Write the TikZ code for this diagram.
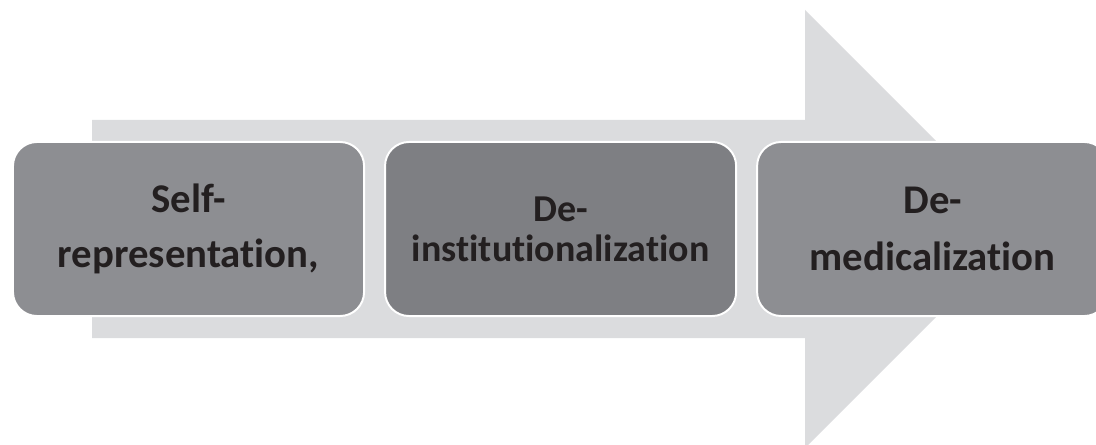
\documentclass[tikz,border=0pt]{standalone}
\usepackage{fontspec}
\setmainfont{Carlito}[Ligatures={NoCommon}]
\usepackage{tikz}
\usetikzlibrary{positioning}
\definecolor{flowgray}{RGB}{219,220,222}
\definecolor{stagegray}{RGB}{141,142,146}
\definecolor{stagedark}{RGB}{126,127,131}
\definecolor{stagetext}{RGB}{35,31,32}

\tikzset{
  stagebox/.style={rectangle,rounded corners=0.6cm,draw=white,line width=1.4pt,
                   fill=stagegray,text=stagetext,align=center,
                   minimum width=8.775cm,minimum height=4.35cm,inner sep=0pt},
  stagefont/.style 2 args={font=\fontsize{#1}{#2}\selectfont\bfseries}
}

\begin{document}
\begin{tikzpicture}[x=0.025cm,y=-0.025cm]
\useasboundingbox (0,0) rectangle (1096,445);
\clip (0,0) rectangle (1096,445);
% broad arrow behind the stages
\fill[flowgray] (92,120) -- (805,120) -- (805,10) -- (1024,229)
  -- (805,448) -- (805,338) -- (92,338) -- cycle;
% the three stages
\node[stagebox,stagefont={29}{39},anchor=west] (selfrep) at (12,229)
  {Self-\\representation,};
\node[stagebox,stagefont={27}{28.5},fill=stagedark,right=0.475cm of selfrep] (deinst)
  {De-\\institutionalization};
\node[stagebox,stagefont={29}{41},right=0.475cm of deinst] (demed)
  {De-\\medicalization};
\end{tikzpicture}
\end{document}
